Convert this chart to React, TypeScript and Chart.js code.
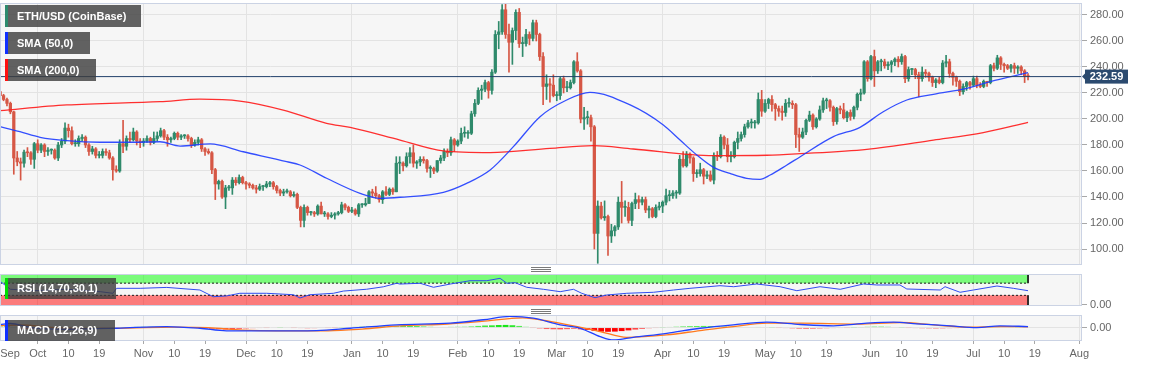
import React, { useEffect, useRef } from 'react';
import { Chart, registerables } from 'chart.js';

Chart.register(...registerables);

const FONT = '"Liberation Sans", Arial, Helvetica, sans-serif';
Chart.defaults.font.family = FONT;

// Day index 0 = 2019-10-01. First candle = 2019-09-20 (day -11), last = 2020-07-17 (day 290)
const FIRST_DAY = -11;
const X_MIN = -11.04;
const X_MAX = 305.8;
const PRICE_MIN = 87.7;
const PRICE_MAX = 289.2;

const opens = [
  221, 218, 215, 212, 205.5, 170, 167, 166, 174.5, 174, 169,
  181, 176, 180, 175, 176, 176, 170, 180, 183, 193, 191, 181, 181, 185, 186, 180, 175, 177, 172, 172, 175, 174, 170, 161, 160, 181, 179, 185, 184, 190, 183,
  182, 183, 185, 182, 185, 187, 191, 186, 184, 185, 189, 186, 187, 187, 185, 180, 182, 184, 177, 175, 174, 161, 150, 152, 140, 147, 147, 153, 151, 155,
  151, 150, 149, 147, 146, 148, 148, 150, 151, 148, 145, 143, 144, 144, 141, 142, 132, 122, 132, 128, 128, 127, 133, 127, 127, 125, 126, 127, 128, 134, 132,
  129, 130, 127, 134, 134, 135, 144, 143, 141, 138, 144, 142, 146, 144, 166, 166, 164, 171, 174, 166, 167, 169, 168, 162, 162, 160, 168, 170, 175, 174, 184,
  180, 183, 189, 189, 189, 204, 212, 222, 223, 228, 222, 236, 265, 267, 284, 265, 259, 268, 282, 258, 258, 265, 262, 274, 265, 248, 225, 227, 226,
  218, 218, 231, 224, 224, 228, 244, 237, 200, 201, 201, 194, 112, 133, 124, 125, 110, 114, 117, 136, 132, 132, 122, 135, 138, 136, 138, 130, 131, 125, 132,
  133, 136, 141, 141, 143, 143, 169, 164, 173, 170, 158, 158, 161, 156, 157, 153, 172, 171, 186, 180, 171, 171, 182, 185, 188, 194, 197, 197, 197, 215,
  206, 212, 215, 211, 208, 206, 205, 212, 212, 211, 188, 186, 190, 199, 203, 194, 200, 207, 214, 214, 209, 198, 208, 207, 201, 205, 202, 209, 219, 220, 244,
  231, 248, 237, 244, 244, 241, 242, 244, 246, 244, 248, 231, 238, 238, 234, 231, 236, 235, 232, 228, 230, 228, 243, 244, 235, 232, 229, 221, 225, 228,
  226, 231, 226, 225, 229, 228, 241, 239, 247, 242, 241, 239, 241, 239, 240, 237, 233,
];

const highs = [
  223, 219, 216, 213, 206, 175, 170, 176, 178, 175, 182,
  184, 181, 181, 178, 177, 177, 182, 185, 197, 196, 194, 184, 187, 188, 187, 181, 179, 178, 175, 177, 177, 176, 171, 164, 184, 199, 187, 190, 193, 191, 185,
  185, 187, 186, 190, 190, 193, 192, 188, 186, 190, 190, 188, 188, 188, 186, 184, 186, 185, 178, 177, 175, 162, 153, 153, 149, 149, 155, 155, 157, 156,
  152, 151, 150, 149, 150, 149, 152, 152, 152, 149, 146, 146, 146, 145, 144, 143, 133, 134, 133, 129, 129, 134, 136, 129, 128, 128, 128, 129, 136, 135, 133,
  132, 131, 135, 135, 139, 145, 146, 148, 142, 145, 148, 147, 147, 171, 171, 167, 174, 178, 180, 168, 171, 171, 169, 164, 163, 168, 172, 177, 177, 186, 185,
  184, 193, 194, 191, 206, 215, 224, 226, 230, 229, 238, 268, 275, 288, 289, 273, 270, 284, 285, 263, 269, 267, 276, 276, 266, 251, 234, 231, 234,
  221, 232, 233, 229, 230, 245, 251, 238, 209, 206, 203, 195, 137, 136, 137, 126, 119, 118, 140, 152, 137, 136, 136, 143, 141, 140, 140, 133, 132, 134, 136,
  137, 146, 145, 145, 145, 172, 175, 175, 174, 171, 161, 166, 162, 160, 160, 174, 175, 188, 187, 185, 175, 183, 190, 190, 196, 199, 200, 199, 220, 222,
  215, 216, 218, 212, 210, 210, 215, 216, 214, 212, 193, 193, 200, 206, 204, 201, 210, 216, 216, 215, 210, 209, 210, 212, 206, 207, 210, 220, 223, 245, 245,
  249, 253, 245, 246, 246, 244, 245, 247, 248, 250, 249, 240, 239, 239, 236, 240, 238, 236, 233, 231, 232, 245, 249, 246, 236, 233, 230, 227, 229, 229,
  233, 233, 228, 230, 229, 242, 243, 249, 248, 243, 242, 242, 243, 241, 241, 238, 235,
];

const lows = [
  215, 214, 210, 204, 157.5, 164, 153, 163, 171, 165, 162,
  174, 174, 171, 172, 173, 169, 168, 178, 181, 186, 180, 179, 179, 183, 178, 172, 173, 170, 170, 170, 172, 169, 153, 159, 159, 174, 176, 182, 183, 180, 178,
  179, 182, 180, 181, 183, 186, 184, 179, 182, 184, 184, 184, 185, 183, 178, 179, 180, 175, 172, 173, 158, 138, 146, 139, 131, 145, 142, 149, 150, 150,
  146, 147, 146, 143, 145, 145, 147, 148, 146, 143, 141, 141, 143, 140, 140, 131, 117, 117, 126, 126, 125, 126, 127, 125, 123, 124, 123, 126, 127, 130, 128,
  128, 126, 125, 132, 133, 135, 140, 139, 136, 135, 141, 141, 142, 144, 158, 160, 163, 166, 163, 162, 164, 166, 159, 155, 158, 159, 166, 168, 171, 172, 175,
  179, 181, 186, 185, 188, 202, 211, 215, 221, 216, 219, 235, 254, 265, 262, 236, 242, 261, 255, 248, 256, 257, 260, 260, 245, 211, 215, 213, 217,
  214, 215, 220, 221, 223, 227, 236, 197, 192, 196, 183, 100, 89, 123, 122, 95, 105, 110, 115, 120, 125, 120, 118, 131, 131, 134, 128, 124, 124, 124, 130,
  128, 134, 137, 139, 139, 142, 163, 163, 166, 152, 155, 156, 150, 154, 152, 150, 168, 170, 177, 167, 167, 170, 177, 183, 186, 193, 193, 193, 196, 202,
  205, 208, 206, 199, 202, 199, 202, 209, 208, 178, 175, 185, 188, 198, 192, 193, 199, 205, 208, 206, 195, 196, 204, 200, 198, 199, 200, 207, 214, 219, 229,
  230, 225, 235, 237, 239, 238, 236, 241, 240, 242, 228, 229, 234, 231, 217, 229, 232, 229, 225, 224, 227, 227, 240, 232, 226, 225, 218, 219, 222, 223,
  225, 224, 224, 224, 225, 227, 237, 238, 238, 236, 238, 236, 235, 235, 234, 228, 230,
];

const closes = [
  218, 215, 212, 205.5, 170, 167, 166, 174.5, 174, 169, 181,
  176, 180, 175, 176, 176, 170, 180, 183, 193, 191, 181, 181, 185, 186, 180, 175, 177, 172, 172, 175, 174, 170, 161, 160, 181, 179, 185, 184, 190, 183, 182,
  183, 185, 182, 185, 187, 191, 186, 184, 185, 189, 186, 187, 187, 185, 180, 182, 184, 177, 175, 174, 161, 150, 152, 140, 147, 147, 153, 151, 155, 151,
  150, 149, 147, 146, 148, 148, 150, 151, 148, 145, 143, 144, 144, 141, 142, 132, 122, 132, 128, 128, 127, 133, 127, 127, 125, 126, 127, 128, 134, 132, 129,
  130, 127, 134, 134, 135, 144, 143, 141, 138, 144, 142, 146, 144, 166, 166, 164, 171, 174, 166, 167, 169, 168, 162, 162, 160, 168, 170, 175, 174, 184, 180,
  183, 189, 189, 189, 204, 212, 222, 223, 228, 222, 236, 265, 267, 284, 265, 259, 268, 282, 258, 258, 265, 262, 274, 265, 248, 225, 227, 226, 218,
  218, 231, 224, 224, 228, 244, 237, 200, 201, 201, 194, 112, 133, 124, 125, 110, 114, 117, 136, 132, 132, 122, 135, 138, 136, 138, 130, 131, 125, 132, 133,
  136, 141, 141, 143, 143, 169, 164, 173, 170, 158, 158, 161, 156, 157, 153, 172, 171, 186, 180, 171, 171, 182, 185, 188, 194, 197, 197, 197, 215, 206,
  212, 215, 211, 208, 206, 205, 212, 212, 211, 188, 186, 190, 199, 203, 194, 200, 207, 214, 214, 209, 198, 208, 207, 201, 205, 202, 209, 219, 220, 244, 231,
  248, 237, 244, 244, 241, 242, 244, 246, 244, 248, 231, 238, 238, 234, 231, 236, 235, 232, 228, 230, 228, 243, 244, 235, 232, 229, 221, 225, 228, 226,
  231, 226, 225, 229, 228, 241, 239, 247, 242, 241, 239, 241, 239, 240, 237, 233, 232.59,
];

const sma50Days = [-11.04, -5.2, 0.7, 8.5, 18.2, 27.9, 35.8, 41.7, 50.5, 60.2, 72.9, 76.8, 84.6, 94.4, 100.2, 106.1, 118.8, 125.6, 132.5, 139.3, 147.1, 154.9, 161.7, 173.5, 183.2, 188.1, 193.0, 197.9, 202.7, 207.6, 211.5, 214.5, 219.4, 223.3, 233.0, 240.8, 247.6, 254.5, 262.3, 272.1, 278.9, 290];
const sma50Vals = [194.1, 190.2, 185.9, 183.3, 182.1, 182.1, 182.5, 179.2, 180.8, 174.8, 167.2, 164.6, 154.4, 142.8, 139.0, 139.8, 143.6, 150.5, 160.8, 178.7, 201.8, 214.6, 220.5, 210.8, 195.4, 183.8, 172.3, 162.8, 158.2, 154.4, 153.6, 156.9, 164.6, 171, 186.4, 193.6, 205.6, 214.6, 219, 223.6, 228.7, 235.6];

const sma200Days = [-11.04, 8.5, 35.8, 47.5, 59.2, 71.9, 84.6, 91.5, 106.1, 118.8, 132.5, 150.0, 162.7, 174.4, 197.9, 213.5, 223.3, 242.8, 262.3, 276.9, 290];
const sma200Vals = [206.4, 210.8, 213.3, 215.2, 213.8, 206.9, 196.7, 193.5, 183.8, 175.4, 174.1, 177.4, 179.5, 176.9, 171.8, 172.1, 173.3, 176.7, 183.8, 189.5, 197.4];

const rsiDays = [-11, -8, -1, 8.5, 18.3, 22, 23.1, 30, 37.8, 47.5, 51.4, 55.3, 59.2, 67, 74.9, 76.8, 79.7, 86.6, 89.5, 96.3, 101.2, 105.1, 106.1, 112, 115.9, 120.8, 126.6, 131.5, 135.4, 137.4, 139.8, 143.2, 148.1, 153, 156.9, 159.3, 163.2, 166.6, 172.5, 180.3, 186.2, 191, 199.8, 203.8, 210.5, 217.4, 222.3, 229.1, 235, 241.8, 245.7, 252.5, 254.5, 264.3, 265.7, 270.1, 274, 280.9, 285.7, 290];
const rsiVals = [76, 50, 45, 50, 42, 36.7, 53, 53, 56, 47.5, 25.5, 28, 36.7, 36.7, 32, 21.3, 32, 36.7, 44, 50, 58, 69.5, 67, 69.5, 56.4, 67, 78, 78, 85.8, 69.5, 71.5, 56.4, 49.8, 42, 49.8, 36.7, 22.2, 31, 36.7, 40, 47.5, 53, 61.6, 58.3, 67.2, 58.3, 45.2, 58.3, 49.8, 67.2, 64, 64, 50.8, 47.5, 58.3, 40, 47.5, 60.6, 53, 45.2];

const macdDays = [-11, -8, -2, 8.5, 23.1, 37.8, 47.5, 55.3, 67, 81.7, 91.5, 105.1, 120.8, 130.5, 138.3, 145.1, 153, 158.9, 164.7, 168.6, 174.4, 184.2, 194, 203.7, 213.5, 223.3, 233, 242.8, 250.6, 257.4, 267.2, 275, 281.8, 290];
const macdVals = [3, 4, 0, -1.7, -0.7, 1, -0.7, -3.3, -3.3, -3, -0.7, 2.7, 4.3, 7.7, 11, 9.3, 2.7, -0.7, -9, -12.3, -9.7, -5.7, -0.7, 2.7, 5.3, 3, 1.7, 4.3, 5.3, 3.7, 1.7, 0, 1.7, 1];

const signalDays = [-11, -5, 5, 23, 40, 50, 60, 70, 85, 95, 106, 120, 130, 142, 150, 164.7, 172.5, 184.2, 194, 203.7, 213.5, 223.3, 240, 252.5, 262.3, 272.1, 281.8, 290];
const signalVals = [2, 2.5, 0, -0.8, 0.5, 0, -2.5, -3.3, -3.2, -1.5, 1.7, 3.5, 6, 9.5, 6, -4, -9.7, -7.3, -3, 1, 4.3, 4.3, 3.4, 5, 2.7, 0.4, 1, 0.7];

// histogram sampled every 2 days from day -11
const histVals = [
  1.0, 1.3, 0.4, -1.2, -1.4, -1.0, -0.7, -0.4, -0.2, 0.2,
  0.5, 0.6, 0.5, 0.3, 0.1, -0.1, -0.3, -0.4, 0.2, 0.5,
  0.7, 0.8, 0.8, 0.8, 0.7, 0.5, 0.3, 0.1, -0.2, -0.5,
  -0.8, -1.3, -1.8, -2.0, -1.8, -1.4, -1.0, -0.7, -0.4, -0.2,
  0.0, 0.1, 0.0, -0.2, -0.6, -0.8, -0.7, -0.5, -0.3, -0.1,
  0.2, 0.5, 0.7, 0.9, 1.1, 1.2, 1.1, 1.0, 1.3, 1.6,
  1.7, 1.5, 1.2, 0.8, 0.5, 0.5, 0.7, 0.8, 0.9, 1.2,
  1.6, 2.0, 2.2, 2.5, 2.6, 2.3, 1.6, 0.8, -0.2, -1.0,
  -1.5, -1.7, -1.8, -1.6, -1.3, -1.8, -2.4, -3.2, -4.0, -4.2,
  -4.0, -3.5, -2.8, -2.0, -1.4, -0.8, -0.3, 0.2, 0.6, 0.9,
  1.2, 1.4, 1.5, 1.6, 1.5, 1.3, 1.0, 0.8, 0.6, 0.5,
  0.5, 0.6, 0.5, 0.2, -0.2, -0.6, -0.9, -1.2, -1.3, -1.2,
  -1.0, -0.8, -0.6, -0.4, -0.2, 0.1, 0.4, 0.8, 1.0, 1.0,
  0.8, 0.5, 0.2, -0.2, -0.6, -0.8, -0.9, -1.0, -0.9, -0.7,
  -0.6, -0.5, -0.4, -0.2, 0.0, 0.2, 0.4, 0.5, 0.4, 0.2,
  0.0,
];

const priceTicks = [100, 120, 140, 160, 180, 200, 220, 240, 260, 280];
const monthStartDays = [0, 31, 61, 92, 123, 152, 183, 213, 244, 274, 305];
const xTickDays = [-8.1, 0, 9, 18, 31, 40, 49, 61, 70, 79, 92, 101, 110, 123, 132, 141, 152, 161, 170, 183, 192, 201, 213, 222, 231, 244, 253, 262, 274, 283, 292, 305];
const xTickLabels = ['Sep', 'Oct', '10', '19', 'Nov', '10', '19', 'Dec', '10', '19', 'Jan', '10', '19', 'Feb', '10', '19', 'Mar', '10', '19', 'Apr', '10', '19', 'May', '10', '19', 'Jun', '10', '19', 'Jul', '10', '19', 'Aug'];

const GRID = '#e3e3e3';
const UP = '#2f8a6b';
const DOWN = '#d65745';
const AXIS_W = 71;

const candleDays = closes.map((_, i) => FIRST_DAY + i);
const candleColors = closes.map((c, i) => (c >= opens[i] ? UP : DOWN));
const LAST_PRICE = closes[closes.length - 1];
const LAST_DAY = candleDays[candleDays.length - 1];

const pts = (xs: number[], ys: number[]) => xs.map((x, i) => ({ x, y: ys[i] }));

function drawTag(ctx: CanvasRenderingContext2D, x: number, y: number, w: number, h: number, stripe: string, text: string) {
  ctx.save();
  ctx.fillStyle = 'rgba(60,60,60,0.8)';
  ctx.fillRect(x, y, w, h);
  ctx.fillStyle = stripe;
  ctx.fillRect(x, y, 3, h);
  ctx.fillStyle = '#ffffff';
  ctx.font = `bold 11px ${FONT}`;
  ctx.textAlign = 'left';
  ctx.textBaseline = 'middle';
  ctx.fillText(text, x + 12, y + h / 2 + 0.5);
  ctx.restore();
}

function drawHandle(ctx: CanvasRenderingContext2D, cx: number, y0: number) {
  ctx.save();
  ctx.strokeStyle = '#7a7a7a';
  ctx.lineWidth = 1;
  for (let k = 0; k < 3; k++) {
    ctx.beginPath();
    ctx.moveTo(cx - 10, y0 + 0.5 + 2 * k);
    ctx.lineTo(cx + 10, y0 + 0.5 + 2 * k);
    ctx.stroke();
  }
  ctx.restore();
}

function panelPlugin(id: string, extra: (ctx: CanvasRenderingContext2D, chart: any) => void) {
  return {
    id,
    beforeDraw(chart: any) {
      const { ctx, chartArea: a } = chart;
      ctx.save();
      ctx.fillStyle = '#f6f6f6';
      ctx.fillRect(a.left, a.top, a.right - a.left, a.bottom - a.top);
      ctx.restore();
    },
    afterDraw(chart: any) {
      const { ctx, chartArea: a } = chart;
      ctx.save();
      ctx.strokeStyle = '#cbd3e4';
      ctx.lineWidth = 1;
      ctx.strokeRect(a.left + 0.5, a.top + 0.5, a.right - a.left - 1, a.bottom - a.top - 1);
      ctx.restore();
      extra(ctx, chart);
    },
  };
}

function rightAxis(min: number, max: number, ticks: number[], gridColor: string) {
  return {
    type: 'linear',
    position: 'right',
    min,
    max,
    bounds: 'data',
    afterBuildTicks: (s: any) => {
      s.ticks = ticks.map((v) => ({ value: v }));
    },
    afterFit: (s: any) => {
      s.width = AXIS_W;
      s.paddingTop = 0;
      s.paddingBottom = 0;
    },
    ticks: {
      color: '#666',
      font: { size: 11, family: FONT },
      padding: 3,
      callback: (v: any) => Number(v).toFixed(2),
    },
    grid: { color: gridColor, tickColor: '#a8a8a8', tickLength: 5, drawTicks: true },
    border: { display: false },
  };
}

function hiddenX() {
  return {
    type: 'linear',
    min: X_MIN,
    max: X_MAX,
    offset: false,
    bounds: 'data',
    afterBuildTicks: (s: any) => {
      s.ticks = monthStartDays.map((v) => ({ value: v }));
    },
    afterFit: (s: any) => {
      s.height = 0;
      s.paddingLeft = 0;
      s.paddingRight = 0;
    },
    ticks: { display: false },
    grid: { color: GRID, drawTicks: false, offset: false },
    border: { display: false },
  };
}

const common = {
  responsive: false,
  animation: false,
  events: [],
  plugins: { legend: { display: false }, tooltip: { enabled: false } },
};

function mainConfig(): any {
  return {
    type: 'bar',
    data: {
      datasets: [
        {
          type: 'line',
          data: [{ x: X_MIN, y: LAST_PRICE }, { x: X_MAX, y: LAST_PRICE }],
          borderColor: '#22406a',
          borderWidth: 1,
          pointRadius: 0,
          order: 0,
        },
        {
          type: 'line',
          data: pts(sma50Days, sma50Vals),
          borderColor: 'rgba(30,60,255,0.9)',
          borderWidth: 1.3,
          pointRadius: 0,
          cubicInterpolationMode: 'monotone',
          order: 1,
        },
        {
          type: 'line',
          data: pts(sma200Days, sma200Vals),
          borderColor: 'rgba(255,25,25,0.9)',
          borderWidth: 1.3,
          pointRadius: 0,
          cubicInterpolationMode: 'monotone',
          order: 1,
        },
        {
          type: 'bar',
          data: candleDays.map((d, i) => ({ x: d, y: [opens[i], closes[i]] })),
          backgroundColor: candleColors,
          barThickness: 2.6,
          minBarLength: 1,
          grouped: false,
          order: 2,
        },
        {
          type: 'bar',
          data: candleDays.map((d, i) => ({ x: d, y: [lows[i], highs[i]] })),
          backgroundColor: candleColors,
          barThickness: 1,
          grouped: false,
          order: 3,
        },
      ],
    },
    options: {
      ...common,
      layout: { padding: { top: 3, bottom: 1, left: 0, right: 0 } },
      scales: {
        x: hiddenX(),
        y: rightAxis(PRICE_MIN, PRICE_MAX, priceTicks, GRID),
      },
    },
    plugins: [
      panelPlugin('mainPanel', (ctx, chart) => {
        drawTag(ctx, 5, 5, 136, 22, '#2e8b6e', 'ETH/USD (CoinBase)');
        drawTag(ctx, 5, 32, 85, 22, '#1030ff', 'SMA (50,0)');
        drawTag(ctx, 5, 59, 91, 22, '#ff1010', 'SMA (200,0)');
        const a = chart.chartArea;
        const y = chart.scales.y.getPixelForValue(LAST_PRICE);
        ctx.save();
        ctx.fillStyle = '#2b4a6f';
        ctx.beginPath();
        ctx.moveTo(a.right, y);
        ctx.lineTo(a.right + 4, y - 4);
        ctx.lineTo(a.right + 4, y + 4);
        ctx.closePath();
        ctx.fill();
        ctx.fillRect(a.right + 3, y - 7, 43, 14);
        ctx.fillStyle = '#ffffff';
        ctx.font = `bold 11px ${FONT}`;
        ctx.textAlign = 'center';
        ctx.textBaseline = 'middle';
        ctx.fillText(LAST_PRICE.toFixed(2), a.right + 24.5, y + 0.5);
        ctx.restore();
      }),
    ],
  };
}

const RSI_MIN = -5;
const RSI_MAX = 100;

function rsiConfig(): any {
  const clear = 'rgba(0,0,0,0)';
  return {
    type: 'line',
    data: {
      datasets: [
        {
          data: [{ x: X_MIN, y: 100 }, { x: LAST_DAY, y: 100 }],
          borderColor: clear,
          borderWidth: 1,
          pointRadius: 0,
          fill: { value: 70 },
          backgroundColor: 'rgba(0,255,0,0.5)',
          order: 5,
        },
        {
          data: [{ x: X_MIN, y: 30 }, { x: LAST_DAY, y: 30 }],
          borderColor: clear,
          borderWidth: 1,
          pointRadius: 0,
          fill: { value: RSI_MIN },
          backgroundColor: 'rgba(255,0,0,0.5)',
          order: 5,
        },
        {
          data: [{ x: X_MIN, y: 70 }, { x: LAST_DAY, y: 70 }],
          borderColor: '#1a1a1a',
          borderWidth: 1,
          borderDash: [2, 2],
          pointRadius: 0,
          order: 3,
        },
        {
          data: [{ x: X_MIN, y: 30 }, { x: LAST_DAY, y: 30 }],
          borderColor: '#1a1a1a',
          borderWidth: 1,
          borderDash: [2, 2],
          pointRadius: 0,
          order: 3,
        },
        {
          data: [{ x: LAST_DAY, y: 100 }, { x: LAST_DAY, y: 70 }],
          borderColor: '#1a1a1a',
          borderWidth: 1,
          pointRadius: 0,
          order: 3,
        },
        {
          data: [{ x: LAST_DAY, y: 30 }, { x: LAST_DAY, y: RSI_MIN }],
          borderColor: '#1a1a1a',
          borderWidth: 1,
          pointRadius: 0,
          order: 3,
        },
        {
          data: pts(rsiDays, rsiVals),
          borderColor: '#2f4cf0',
          borderWidth: 1,
          pointRadius: 0,
          tension: 0,
          order: 0,
        },
      ],
    },
    options: {
      ...common,
      layout: { padding: { top: 8, bottom: 4, left: 0, right: 0 } },
      scales: {
        x: hiddenX(),
        y: rightAxis(RSI_MIN, RSI_MAX, [0], 'rgba(0,0,0,0)'),
      },
    },
    plugins: [
      panelPlugin('rsiPanel', (ctx) => {
        drawTag(ctx, 5, 12, 111, 21, '#00dd00', 'RSI (14,70,30,1)');
        drawHandle(ctx, 541, 1);
      }),
    ],
  };
}

const MACD_MIN = -13.3;
const MACD_MAX = 12.4;

function macdConfig(): any {
  return {
    type: 'bar',
    data: {
      datasets: [
        {
          type: 'line',
          data: pts(macdDays, macdVals),
          borderColor: '#2040ff',
          borderWidth: 1.3,
          pointRadius: 0,
          cubicInterpolationMode: 'monotone',
          order: 0,
        },
        {
          type: 'line',
          data: pts(signalDays, signalVals),
          borderColor: '#ff7a1f',
          borderWidth: 1.3,
          pointRadius: 0,
          cubicInterpolationMode: 'monotone',
          order: 1,
        },
        {
          type: 'bar',
          data: histVals.map((v, i) => ({ x: FIRST_DAY + 2 * i, y: v })),
          backgroundColor: histVals.map((v) => {
            const a = Math.min(1, 0.25 + 0.25 * Math.abs(v));
            return v >= 0 ? `rgba(0,230,0,${a})` : `rgba(255,0,0,${a})`;
          }),
          barPercentage: 1,
          categoryPercentage: 0.85,
          grouped: false,
          order: 2,
        },
      ],
    },
    options: {
      ...common,
      layout: { padding: { top: 7, bottom: 0, left: 0, right: 0 } },
      scales: {
        x: {
          type: 'linear',
          min: X_MIN,
          max: X_MAX,
          offset: false,
          bounds: 'data',
          afterBuildTicks: (s: any) => {
            s.ticks = xTickDays.map((v) => ({ value: v }));
          },
          afterFit: (s: any) => {
            s.height = 26;
            s.paddingLeft = 0;
            s.paddingRight = 0;
          },
          ticks: {
            autoSkip: false,
            maxRotation: 0,
            minRotation: 0,
            padding: 3.5,
            color: '#666',
            font: { size: 11, family: FONT },
            callback: (_v: any, i: number) => xTickLabels[i],
          },
          grid: {
            offset: false,
            drawTicks: true,
            tickLength: 3,
            color: (c: any) => (c.tick && monthStartDays.includes(c.tick.value) ? GRID : 'rgba(0,0,0,0)'),
            tickColor: (c: any) => (c.tick && c.tick.value < -1 ? 'rgba(0,0,0,0)' : '#a8a8a8'),
          },
          border: { display: false },
        },
        y: rightAxis(MACD_MIN, MACD_MAX, [0], GRID),
      },
    },
    plugins: [
      panelPlugin('macdPanel', (ctx) => {
        drawTag(ctx, 5, 12, 110, 21, '#1030ff', 'MACD (12,26,9)');
        drawHandle(ctx, 541, 1);
      }),
    ],
  };
}

export default function App() {
  const mainRef = useRef<HTMLCanvasElement>(null);
  const rsiRef = useRef<HTMLCanvasElement>(null);
  const macdRef = useRef<HTMLCanvasElement>(null);

  useEffect(() => {
    const charts = [
      new Chart(mainRef.current as HTMLCanvasElement, mainConfig()),
      new Chart(rsiRef.current as HTMLCanvasElement, rsiConfig()),
      new Chart(macdRef.current as HTMLCanvasElement, macdConfig()),
    ];
    return () => charts.forEach((c) => c.destroy());
  }, []);

  const abs = (top: number, height: number): React.CSSProperties => ({
    position: 'absolute',
    left: 0,
    top,
    width: 1153,
    height,
    display: 'block',
  });

  return (
    <div style={{ position: 'absolute', left: 0, top: 0, width: 1153, height: 367, background: '#ffffff', overflow: 'hidden' }}>
      <canvas ref={mainRef} width={1153} height={266} style={abs(0, 266)} />
      <canvas ref={rsiRef} width={1153} height={44} style={abs(266, 44)} />
      <canvas ref={macdRef} width={1153} height={59} style={abs(308, 59)} />
    </div>
  );
}
